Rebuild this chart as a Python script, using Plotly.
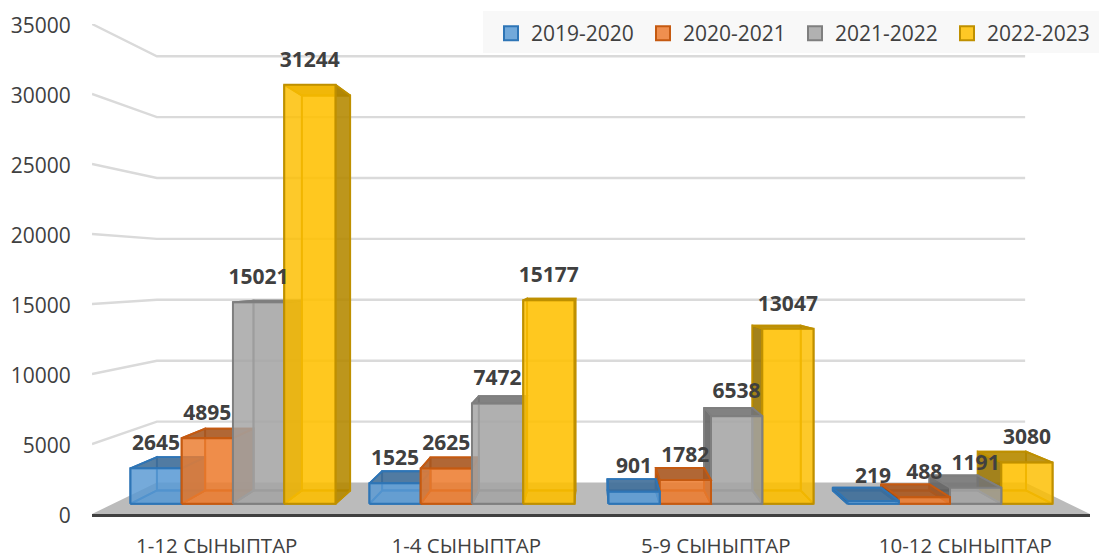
import plotly.graph_objects as go

categories = ["1-12 СЫНЫПТАР", "1-4 СЫНЫПТАР", "5-9 СЫНЫПТАР", "10-12 СЫНЫПТАР"]
series_names = ["2019-2020", "2020-2021", "2021-2022", "2022-2023"]
v2019 = [2645, 1525, 901, 219]
v2020 = [4895, 2625, 1782, 488]
v2021 = [15021, 7472, 6538, 1191]
v2022 = [31244, 15177, 13047, 3080]
series_values = [v2019, v2020, v2021, v2022]
y_ticks = [0, 5000, 10000, 15000, 20000, 25000, 30000, 35000]

rgb = [(91, 155, 213), (237, 125, 49), (165, 165, 165), (255, 192, 0)]
edge = ["#2E75B6", "#C55A11", "#7F7F7F", "#BF9000"]
TXT = "#404040"

# perspective of the 3-D box, in axis units
XC, YC = 2.0, 17300.0
S_WALL, S_FRONT, S_BACK = 0.87, 0.958, 0.903
BAR_W = 0.2145
LABEL_LIFT = 1680


def px(x, s):
    return XC + (x - XC) * s


def py(v, s):
    return YC + (v - YC) * s


def rgba(c, k, a):
    return f"rgba({int(c[0]*k)},{int(c[1]*k)},{int(c[2]*k)},{a})"


fig = go.Figure()


def poly(pts, fill, line=None, width=1.8, close=True):
    xs = [p[0] for p in pts]
    ys = [p[1] for p in pts]
    if close:
        xs.append(xs[0])
        ys.append(ys[0])
    fig.add_trace(go.Scatter(
        x=xs, y=ys,
        mode="lines", fill="toself" if fill else None, fillcolor=fill,
        line=dict(color=line or "rgba(0,0,0,0)", width=width),
        hoverinfo="skip", showlegend=False, cliponaxis=False))


# walls
for t in y_ticks[1:]:
    poly([(0, py(t, 1)), (px(0, S_WALL), py(t, S_WALL)), (px(4, S_WALL), py(t, S_WALL))],
         None, "#DADADA", 2.4, close=False)
# floor
poly([(0, 0), (4, 0), (px(4, S_WALL), py(0, S_WALL)), (px(0, S_WALL), py(0, S_WALL))], "#BBBBBB")

# bars, far from the centre first
bars = []
for k, vals in enumerate(series_values):
    for i, v in enumerate(vals):
        x0 = i + 0.5 + (k - 2) * BAR_W + 0.002
        bars.append((abs(x0 + BAR_W / 2 - XC), x0, v, k))
bars.sort(key=lambda b: -b[0])

for _, x0, v, k in bars:
    x1 = x0 + BAR_W
    c, e = rgb[k], edge[k]
    def P(x, val, s):
        return (px(x, s), py(val, s))
    left_visible = x0 > XC
    near_x = x0 if left_visible else x1
    far_x = x1 if left_visible else x0
    # back, bottom, far side
    poly([P(x0, 0, S_BACK), P(x1, 0, S_BACK), P(x1, v, S_BACK), P(x0, v, S_BACK)], rgba(c, 1, .45), e)
    poly([P(x0, 0, S_FRONT), P(x1, 0, S_FRONT), P(x1, 0, S_BACK), P(x0, 0, S_BACK)], rgba(c, .95, .5), e)
    poly([P(far_x, 0, S_FRONT), P(far_x, 0, S_BACK), P(far_x, v, S_BACK), P(far_x, v, S_FRONT)], rgba(c, .85, .25), e)
    # top and near side
    poly([P(x0, v, S_FRONT), P(x1, v, S_FRONT), P(x1, v, S_BACK), P(x0, v, S_BACK)], rgba(c, .7, .85), e)
    poly([P(near_x, 0, S_FRONT), P(near_x, 0, S_BACK), P(near_x, v, S_BACK), P(near_x, v, S_FRONT)], rgba(c, .55 if left_visible else .68, .8), e)
    # front
    poly([P(x0, 0, S_FRONT), P(x1, 0, S_FRONT), P(x1, v, S_FRONT), P(x0, v, S_FRONT)], rgba(c, 1, .78), e, 2)

# data labels
for k, vals in enumerate(series_values):
    fig.add_trace(go.Scatter(
        x=[px(i + 0.5 + (k - 1.5) * BAR_W + 0.002, S_FRONT) for i in range(len(vals))],
        y=[py(v, S_FRONT) + LABEL_LIFT for v in vals],
        text=[str(v) for v in vals], mode="text", textposition="middle center",
        textfont=dict(family="Open Sans", size=21, color=TXT, weight="bold"),
        hoverinfo="skip", showlegend=False, cliponaxis=False))

# legend entries
for k, name in enumerate(series_names):
    fig.add_trace(go.Scatter(
        x=[None], y=[None], name=name, mode="markers",
        marker=dict(symbol="square", size=14, color=rgba(rgb[k], 1, .85),
                    line=dict(color=edge[k], width=2))))

fig.update_layout(
    width=1099, height=554, margin=dict(l=92, r=9, t=24, b=40, autoexpand=False),
    paper_bgcolor="white", plot_bgcolor="white", hovermode=False,
    font=dict(family="Open Sans", color=TXT),
    shapes=[dict(type="rect", xref="paper", yref="paper", x0=(483 - 92) / 998, x1=(1099 - 92) / 998,
                 y0=1 + (24 - 53) / 490, y1=1 + (24 - 11) / 490,
                 fillcolor="#F8F8F8", line_width=0, layer="below")],
    legend=dict(orientation="h", x=(491 - 92) / 998, xanchor="left", y=1 + (24 - 13) / 490,
                yanchor="top", bgcolor="rgba(0,0,0,0)", entrywidth=107, entrywidthmode="pixels",
                font=dict(size=21, color=TXT, family="Open Sans"), itemclick=False, itemdoubleclick=False),
    xaxis=dict(range=[0, 4], tickmode="array", tickvals=[i + 0.5 for i in range(4)], ticktext=categories,
               showgrid=False, zeroline=False, showline=True, linecolor="#404040", linewidth=3,
               ticks="outside", ticklen=11, tickcolor="rgba(0,0,0,0)",
               tickfont=dict(size=20.5, color=TXT, family="Open Sans")),
    yaxis=dict(range=[0, 35000], tickmode="array", tickvals=y_ticks, ticktext=[str(t) for t in y_ticks],
               showgrid=False, zeroline=False,
               showline=False, ticks="outside", ticklen=16, tickcolor="rgba(0,0,0,0)", ticklabelshift=2,
               tickfont=dict(size=21, color=TXT, family="Open Sans")),
)
fig.write_html("out.html", config={"displayModeBar": False}, post_script="document.body.style.margin='0';")
